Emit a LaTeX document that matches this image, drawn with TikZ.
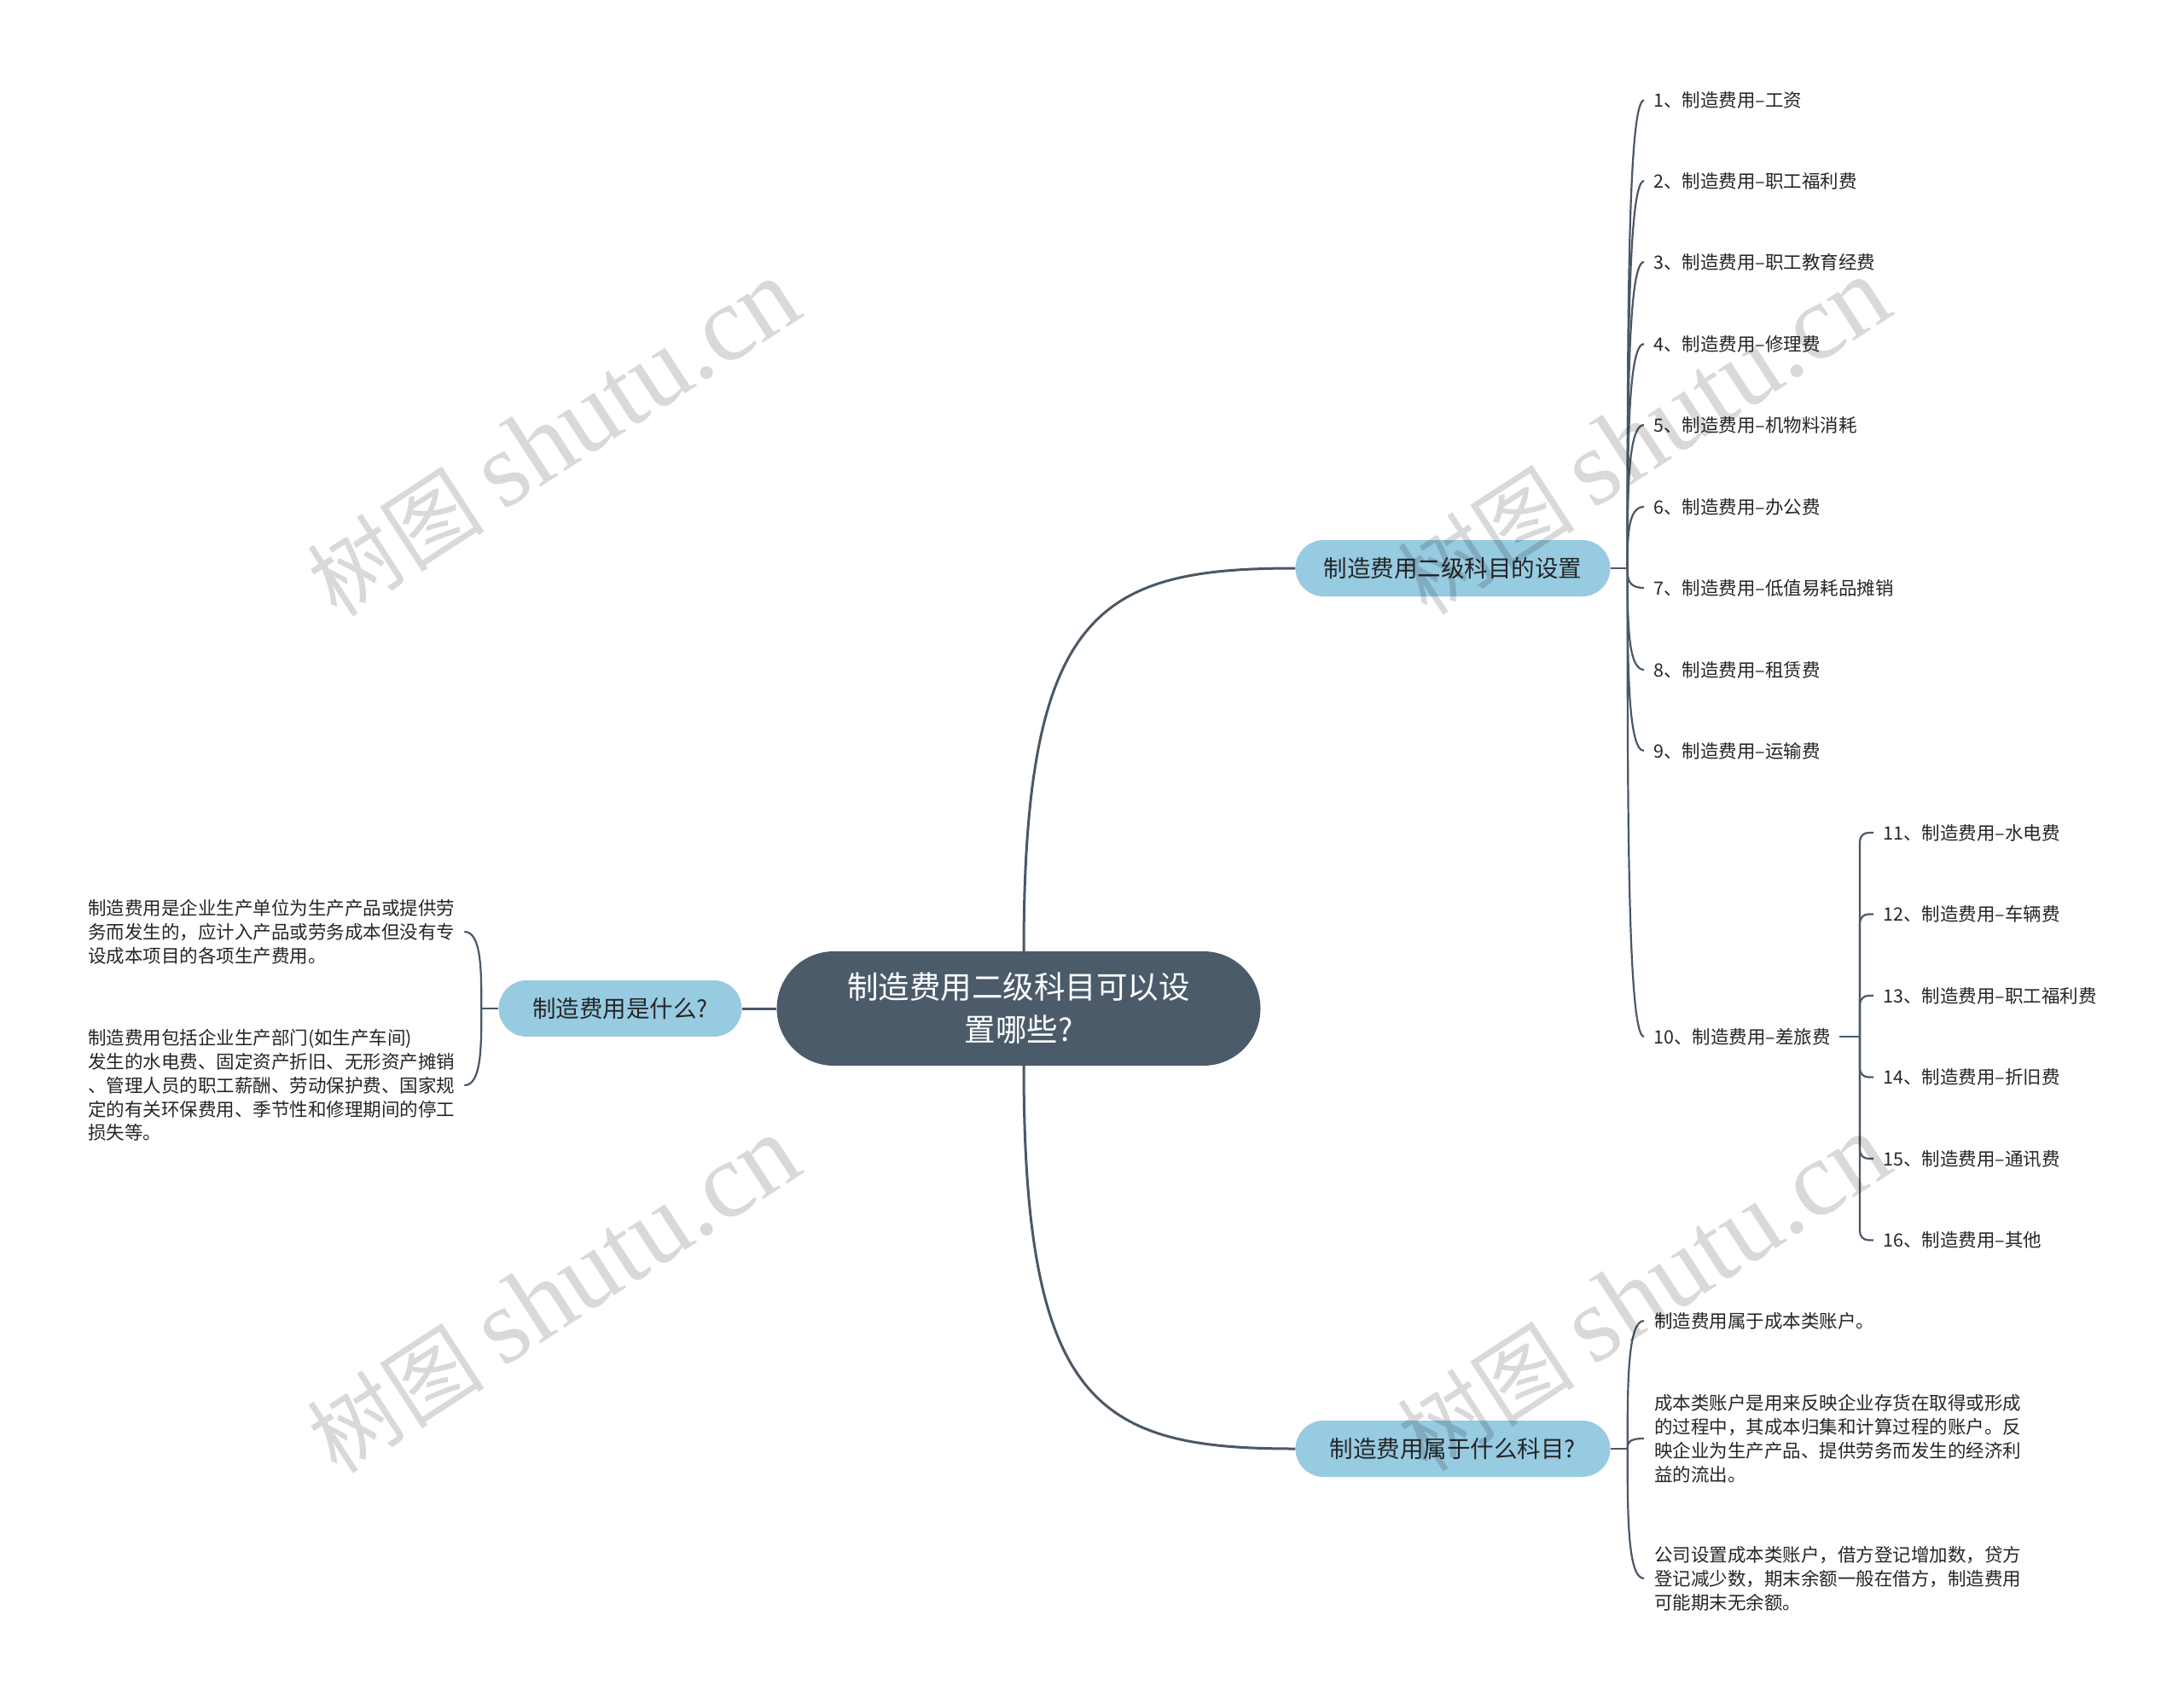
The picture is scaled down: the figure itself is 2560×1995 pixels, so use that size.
\documentclass[tikz,border=0pt]{standalone}
\usepackage{fontspec}
\setmainfont{Noto Sans CJK SC}
\newfontfamily\wmlatin{Liberation Serif}
\usetikzlibrary{calc}
\definecolor{rootfill}{HTML}{4C5B6A}
\definecolor{subfill}{HTML}{97CBE2}
\definecolor{linec}{HTML}{4A5866}
\definecolor{txt}{HTML}{262626}
\begin{document}
\begin{tikzpicture}[x=1pt,y=1pt,
  rootnode/.style={fill=rootfill, text=white, rounded corners=67pt, minimum width=567pt, minimum height=134pt, align=center, inner sep=0pt, font=\fontsize{36.5}{50}\selectfont},
  subnode/.style={fill=subfill, text=txt, rounded corners=33pt, minimum height=66pt, inner sep=0pt, font=\fontsize{27.5}{33}\selectfont},
  leaf/.style={anchor=west, inner sep=0pt, text=txt, align=left, font=\fontsize{21.5}{27.8}\selectfont},
  mainline/.style={draw=linec, line width=3pt},
  branch/.style={draw=linec, line width=2.2pt},
  wm/.style={rotate=33, text=black, text opacity=0.15, inner sep=0pt}
]
\fill[white] (0,0) rectangle (2560,-1995);
\useasboundingbox (0,0) rectangle (2560,-1995);

% root and main topics
\node[rootnode] (root) at (1194,-1182) {制造费用二级科目可以设\\置哪些?};
\node[subnode, minimum width=369pt] (n1) at (1703,-666) {制造费用二级科目的设置};
\node[subnode, minimum width=285pt] (n2) at (727,-1182) {制造费用是什么?};
\node[subnode, minimum width=369pt] (n3) at (1703,-1698) {制造费用属于什么科目?};

\coordinate (rt) at ($(root.north)+(6,0)$);
\coordinate (rb) at ($(root.south)+(6,0)$);
\draw[mainline] (rt) .. controls ($(rt)+(0,400)$) and ($(n1.west)+(-230,0)$) .. (n1.west);
\draw[mainline] (rb) .. controls ($(rb)+(0,-400)$) and ($(n3.west)+(-230,0)$) .. (n3.west);
\draw[mainline] (root.west) -- (n2.east);

% children of n1
\node[leaf] (c1) at (1938,-117.5) {1、制造费用–工资};
\node[leaf] (c2) at (1938,-212) {2、制造费用–职工福利费};
\node[leaf] (c3) at (1938,-307) {3、制造费用–职工教育经费};
\node[leaf] (c4) at (1938,-403) {4、制造费用–修理费};
\node[leaf] (c5) at (1938,-498) {5、制造费用–机物料消耗};
\node[leaf] (c6) at (1938,-594) {6、制造费用–办公费};
\node[leaf] (c7) at (1938,-689) {7、制造费用–低值易耗品摊销};
\node[leaf] (c8) at (1938,-785) {8、制造费用–租赁费};
\node[leaf] (c9) at (1938,-880) {9、制造费用–运输费};
\node[leaf] (c10) at (1938,-1215) {10、制造费用–差旅费};

\coordinate (j1) at ($(n1.east)+(20,0)$);
\draw[branch] (n1.east) -- (j1);
\foreach \i in {1,...,10}
  \draw[branch] (j1) .. controls ($(j1)!0.5!(j1|-c\i.west)$) and (j1|-c\i.west) .. ($(c\i.west)+(-11,0)$);

% children of item 10
\node[leaf] (c11) at (2207,-976) {11、制造费用–水电费};
\node[leaf] (c12) at (2207,-1071.5) {12、制造费用–车辆费};
\node[leaf] (c13) at (2207,-1167) {13、制造费用–职工福利费};
\node[leaf] (c14) at (2207,-1262.5) {14、制造费用–折旧费};
\node[leaf] (c15) at (2207,-1358) {15、制造费用–通讯费};
\node[leaf] (c16) at (2207,-1453.5) {16、制造费用–其他};

\coordinate (j10) at (2180,-1215);
\draw[branch] ($(c10.east)+(10,0)$) -- (j10);
\foreach \i in {11,...,16}
  \draw[branch, rounded corners=10pt] (j10) |- ($(c\i.west)+(-11,0)$);

% children of n2
\node[leaf] (l1) at (103,-1092) {制造费用是企业生产单位为生产产品或提供劳\\务而发生的，应计入产品或劳务成本但没有专\\设成本项目的各项生产费用。};
\node[leaf] (l2) at (103,-1272) {制造费用包括企业生产部门(如生产车间)\\发生的水电费、固定资产折旧、无形资产摊销\\、管理人员的职工薪酬、劳动保护费、国家规\\定的有关环保费用、季节性和修理期间的停工\\损失等。};

\coordinate (jl) at ($(n2.west)+(-20,0)$);
\draw[branch] (n2.west) -- (jl);
\foreach \i in {1,2}
  \draw[branch] (jl) .. controls ($(jl)!0.5!(jl|-l\i.east)$) and (jl|-l\i.east) .. ($(jl|-l\i.east)+(-20,0)$);

% children of n3
\node[leaf] (r1) at (1939,-1548) {制造费用属于成本类账户。};
\node[leaf] (r2) at (1939,-1686) {成本类账户是用来反映企业存货在取得或形成\\的过程中，其成本归集和计算过程的账户。反\\映企业为生产产品、提供劳务而发生的经济利\\益的流出。};
\node[leaf] (r3) at (1939,-1850) {公司设置成本类账户，借方登记增加数，贷方\\登记减少数，期末余额一般在借方，制造费用\\可能期末无余额。};

\coordinate (j3) at ($(n3.east)+(20,0)$);
\draw[branch] (n3.east) -- (j3);
\foreach \i in {1,2,3}
  \draw[branch] (j3) .. controls ($(j3)!0.5!(j3|-r\i.west)$) and (j3|-r\i.west) .. ($(r\i.west)+(-12,0)$);

% watermarks
\node[wm] (w1) at (649,-514) {\fontsize{104}{104}\selectfont 树图 {\wmlatin\fontsize{126}{126}\selectfont shutu.cn}};
\node[wm] (w2) at (1927,-512) {\fontsize{104}{104}\selectfont 树图 {\wmlatin\fontsize{126}{126}\selectfont shutu.cn}};
\node[wm] (w3) at (649,-1518) {\fontsize{104}{104}\selectfont 树图 {\wmlatin\fontsize{126}{126}\selectfont shutu.cn}};
\node[wm] (w4) at (1927,-1516) {\fontsize{104}{104}\selectfont 树图 {\wmlatin\fontsize{126}{126}\selectfont shutu.cn}};
\end{tikzpicture}
\end{document}
